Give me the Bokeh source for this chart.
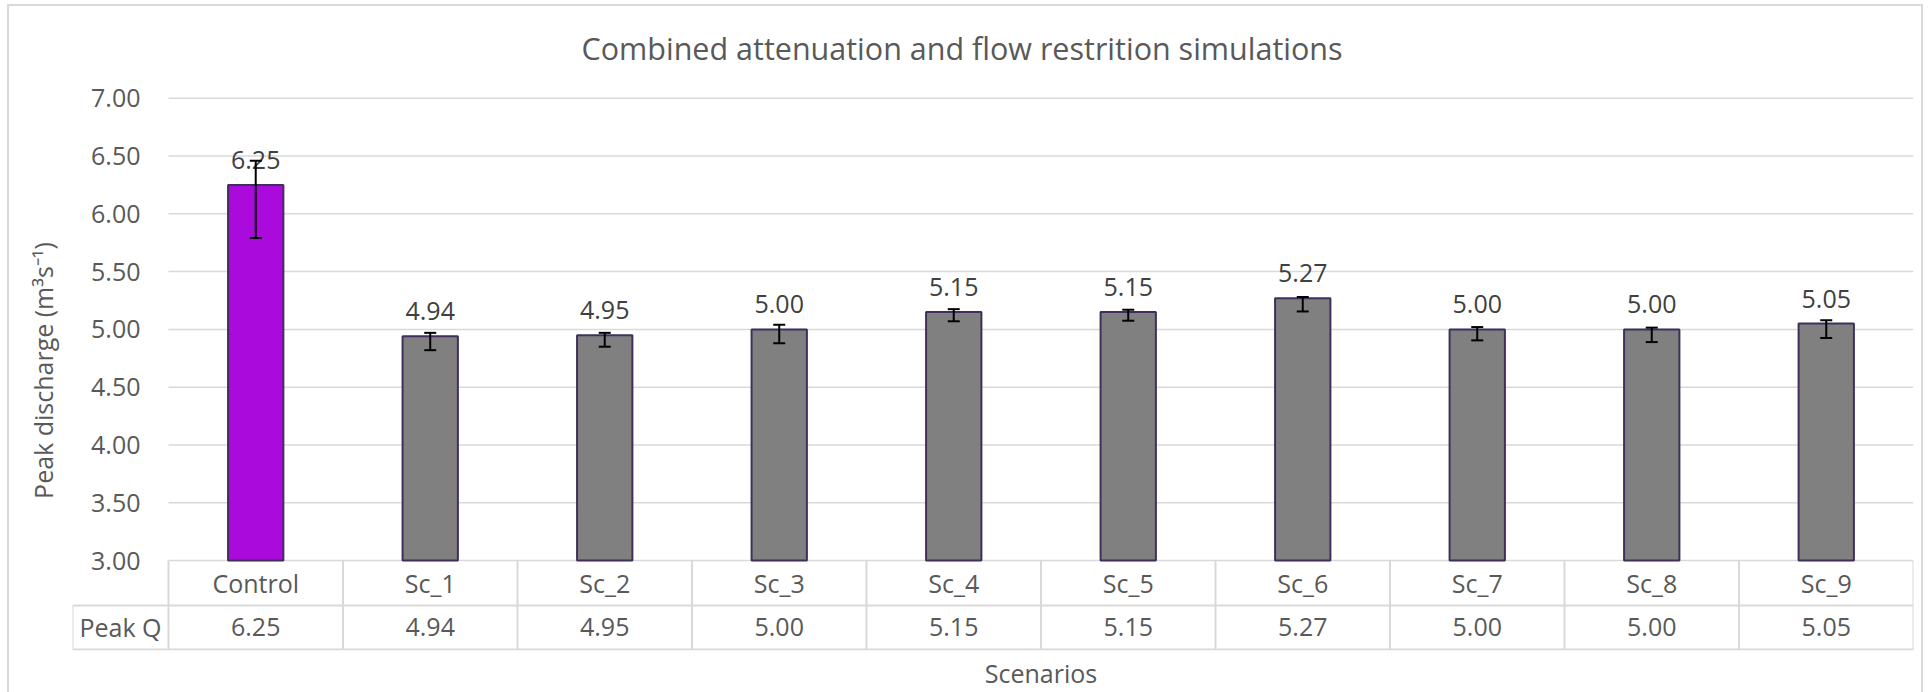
from bokeh.plotting import figure
from bokeh.models import (Range1d, FixedTicker, PrintfTickFormatter, ColumnDataSource,
                          Whisker, TeeHead)
from bokeh.core.properties import value
from bokeh.embed import file_html
from bokeh.resources import INLINE

# ---------------- data ----------------
categories = ["Control", "Sc_1", "Sc_2", "Sc_3", "Sc_4", "Sc_5", "Sc_6", "Sc_7", "Sc_8", "Sc_9"]
peak_q = [6.25, 4.94, 4.95, 5.00, 5.15, 5.15, 5.27, 5.00, 5.00, 5.05]
err_upper = [6.46, 4.97, 4.97, 5.04, 5.175, 5.17, 5.28, 5.02, 5.015, 5.08]
err_lower = [5.79, 4.82, 4.85, 4.88, 5.07, 5.075, 5.155, 4.905, 4.89, 4.925]
bar_colors = ["#aa0adc", "#808080", "#808080", "#808080", "#808080",
              "#808080", "#808080", "#808080", "#808080", "#808080"]
y_ticks = [3.0, 3.5, 4.0, 4.5, 5.0, 5.5, 6.0, 6.5, 7.0]
row_label = "Peak Q"
title_text = "Combined attenuation and flow restrition simulations"
y_label = "Peak discharge (m\u00b3s\u207b\u00b9)"
x_label = "Scenarios"

# ---------------- layout constants ----------------
Y_MIN_AXIS = 3.0
ROW1_BOTTOM = 2.611
ROW2_BOTTOM = 2.230
LABEL_COL_LEFT = -0.55
N = len(categories)
FONT = "Open Sans"
TXT = "#595959"
LINE = "#d9d9d9"

xs = [i + 0.5 for i in range(N)]

p = figure(width=1930, height=692,
           x_range=Range1d(LABEL_COL_LEFT, N), y_range=Range1d(2.2213, 7.067),
           output_backend="svg", toolbar_location=None,
           min_border_left=72, min_border_right=17, min_border_top=90, min_border_bottom=42,
           title=title_text)
# chart-area border (left, top, right), drawn behind a transparent canvas
g = "linear-gradient(#d9d9d9, #d9d9d9)"
p.styles = {
    "background-color": "white",
    "background-image": f"{g}, {g}, {g}",
    "background-position": "7px 4px, 7px 4px, 1921px 4px",
    "background-size": "2px 100%, 1916px 2px, 2px 100%",
    "background-repeat": "no-repeat",
}
p.border_fill_color = None
p.background_fill_color = None
p.outline_line_color = None
p.xgrid.visible = False
p.ygrid.visible = False

# title
p.title.align = "left"
p.title.offset = 509
p.title.text_font = FONT
p.title.text_font_size = "30.5px"
p.title.text_font_style = "normal"
p.title.text_color = TXT
p.title.standoff = 44

# y axis
ya = p.yaxis[0]
ya.ticker = FixedTicker(ticks=y_ticks)
ya.formatter = PrintfTickFormatter(format="%.2f")
ya.axis_line_color = None
ya.major_tick_out = 0
ya.major_tick_in = 0
ya.minor_tick_out = 0
ya.minor_tick_in = 0
ya.major_label_standoff = -68
ya.major_label_text_font = FONT
ya.major_label_text_font_size = "25px"
ya.major_label_text_color = TXT
ya.axis_label = y_label
ya.axis_label_text_font = FONT
ya.axis_label_text_font_size = "25px"
ya.axis_label_text_font_style = "normal"
ya.axis_label_text_color = TXT
ya.axis_label_standoff = 28

# x axis: single centred label
xa = p.xaxis[0]
xa.ticker = FixedTicker(ticks=[N / 2])
xa.major_label_overrides = {N / 2: x_label}
xa.axis_line_color = None
xa.major_tick_out = 0
xa.major_tick_in = 0
xa.minor_tick_out = 0
xa.minor_tick_in = 0
xa.major_label_standoff = 5
xa.major_label_text_font = FONT
xa.major_label_text_font_size = "25px"
xa.major_label_text_color = TXT

# gridlines across the plot area
p.segment(x0=[0] * len(y_ticks), x1=[N] * len(y_ticks), y0=y_ticks, y1=y_ticks,
          line_color=LINE, line_width=1.5)

# bars
src = ColumnDataSource(dict(
    x=xs, top=peak_q, color=bar_colors, upper=err_upper, lower=err_lower,
    label=[f"{v:.2f}" for v in peak_q], cat=categories,
))
p.vbar(x="x", top="top", bottom=Y_MIN_AXIS, width=0.317, source=src,
       fill_color="color", line_color="#3f2f5a", line_width=2)

# error bars
w = Whisker(source=src, base="x", upper="upper", lower="lower",
            line_color="black", line_width=2,
            upper_head=TeeHead(size=12, line_color="black", line_width=2),
            lower_head=TeeHead(size=12, line_color="black", line_width=2),
            level="overlay")
p.add_layout(w)

# data labels
p.text(x="x", y="top", text="label", source=src, y_offset=-25,
       text_align="center", text_baseline="alphabetic",
       text_font=value(FONT), text_font_size="25px", text_color="#404040")

# data table lines
h_y = [ROW1_BOTTOM, ROW2_BOTTOM]
p.segment(x0=[LABEL_COL_LEFT] * 2, x1=[N] * 2, y0=h_y, y1=h_y, line_color=LINE, line_width=2)
vx = list(range(N + 1))
p.segment(x0=vx, x1=vx, y0=[ROW2_BOTTOM] * len(vx), y1=[Y_MIN_AXIS] * len(vx),
          line_color=LINE, line_width=2)
p.segment(x0=[LABEL_COL_LEFT], x1=[LABEL_COL_LEFT], y0=[ROW2_BOTTOM], y1=[ROW1_BOTTOM],
          line_color=LINE, line_width=2)

# data table texts
row1_c = (Y_MIN_AXIS + ROW1_BOTTOM) / 2
row2_c = (ROW1_BOTTOM + ROW2_BOTTOM) / 2
p.text(x=xs, y=[row1_c] * N, text=categories, text_align="center", text_baseline="middle",
       text_font=value(FONT), text_font_size="25px", text_color=TXT)
p.text(x=xs, y=[row2_c] * N, text=[f"{v:.2f}" for v in peak_q], text_align="center",
       text_baseline="middle", text_font=value(FONT), text_font_size="25px", text_color=TXT)
p.text(x=[LABEL_COL_LEFT / 2], y=[row2_c], text=[row_label], text_align="center",
       text_baseline="middle", text_font=value(FONT), text_font_size="25px", text_color=TXT)

open("out.html", "w").write(file_html(p, INLINE))
